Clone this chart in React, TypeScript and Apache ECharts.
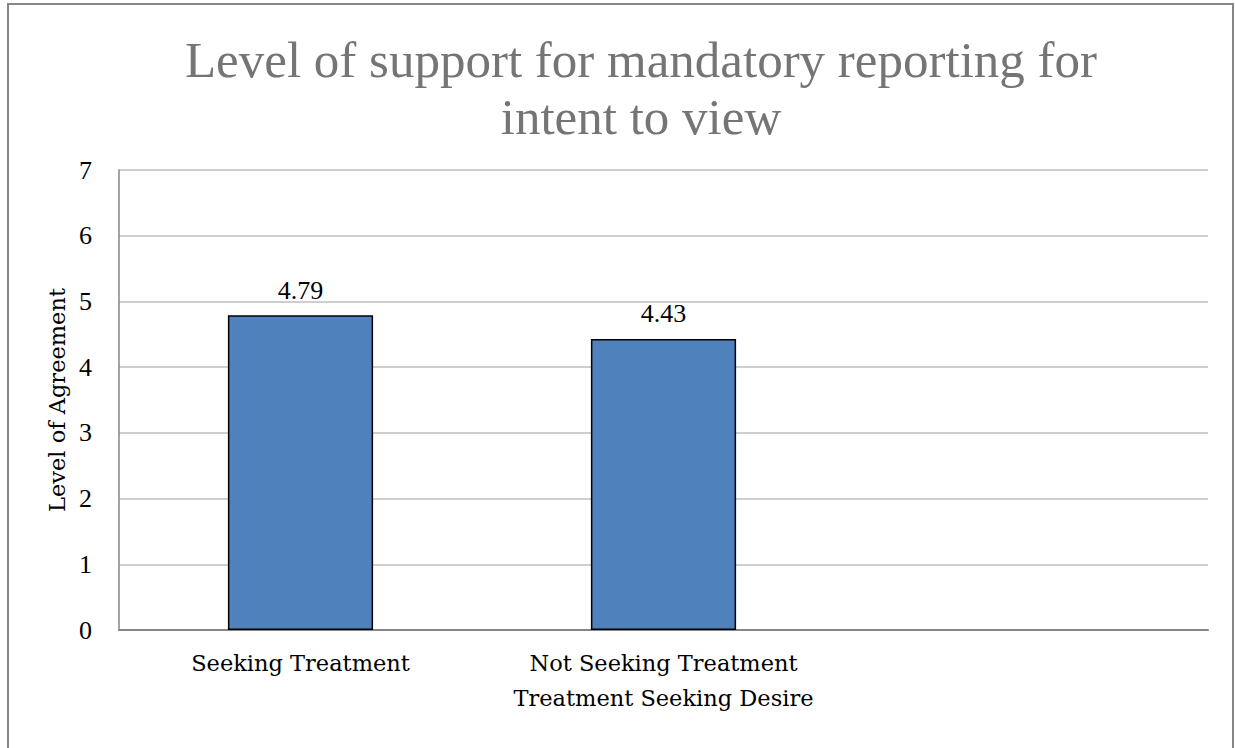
import React, { useEffect, useRef } from "react";
import * as echarts from "echarts";

const titleText = "Level of support for mandatory reporting for\nintent to view";
const categories = ["Seeking Treatment", "Not Seeking Treatment", ""];
const values: (number | null)[] = [4.79, 4.43, null];
const yAxisName = "Level of Agreement";
const xAxisName = "Treatment Seeking Desire";

const SERIF = "'Liberation Serif', serif";
const WIDE = "'DejaVu Serif', serif";

export default function App() {
  const ref = useRef<HTMLDivElement>(null);
  useEffect(() => {
    if (!ref.current) return;
    const chart = echarts.init(ref.current, null, { renderer: "svg" });
    chart.setOption({
      animation: false,
      backgroundColor: "#ffffff",
      textStyle: { fontFamily: SERIF },
      title: {
        text: titleText,
        left: 636,
        textAlign: "center",
        top: 26,
        textStyle: {
          fontFamily: SERIF,
          fontSize: 51,
          fontWeight: "normal",
          color: "#757575",
          lineHeight: 57,
        },
      },
      graphic: [
        {
          type: "rect",
          shape: { x: 8, y: 4, width: 1225, height: 780 },
          style: { fill: "none", stroke: "#868686", lineWidth: 2 },
          silent: true,
        },
      ],
      grid: { left: 119, right: 27, top: 170, bottom: 118, containLabel: false },
      xAxis: {
        type: "category",
        data: categories,
        name: xAxisName,
        nameLocation: "middle",
        nameGap: 56,
        nameTextStyle: { fontFamily: WIDE, fontSize: 22.5, color: "#000" },
        axisLine: { show: true, lineStyle: { color: "#868686", width: 2 } },
        axisTick: { show: false },
        axisLabel: { fontFamily: WIDE, fontSize: 22.5, color: "#000", margin: 21 },
      },
      yAxis: {
        type: "value",
        min: 0,
        max: 7,
        interval: 1,
        name: yAxisName,
        nameLocation: "middle",
        nameRotate: 90,
        nameGap: 49,
        nameTextStyle: { fontFamily: WIDE, fontSize: 22.5, color: "#000" },
        axisLine: { show: true, lineStyle: { color: "#868686", width: 1.5 } },
        axisTick: { show: false },
        axisLabel: { fontFamily: SERIF, fontSize: 26, color: "#000", margin: 27 },
        splitLine: { show: true, lineStyle: { color: "#bfbfbf", width: 1.5 } },
      },
      series: [
        {
          type: "bar",
          data: values,
          barWidth: "40%",
          itemStyle: { color: "#4f81bd", borderColor: "#000000", borderWidth: 1.5 },
          label: {
            show: true,
            position: "top",
            distance: 12,
            fontFamily: SERIF,
            fontSize: 26,
            color: "#000",
          },
        },
      ],
    });
    return () => chart.dispose();
  }, []);
  return (
    <div
      ref={ref}
      style={{ position: "absolute", left: 0, top: 0, width: 1235, height: 748 }}
    />
  );
}
